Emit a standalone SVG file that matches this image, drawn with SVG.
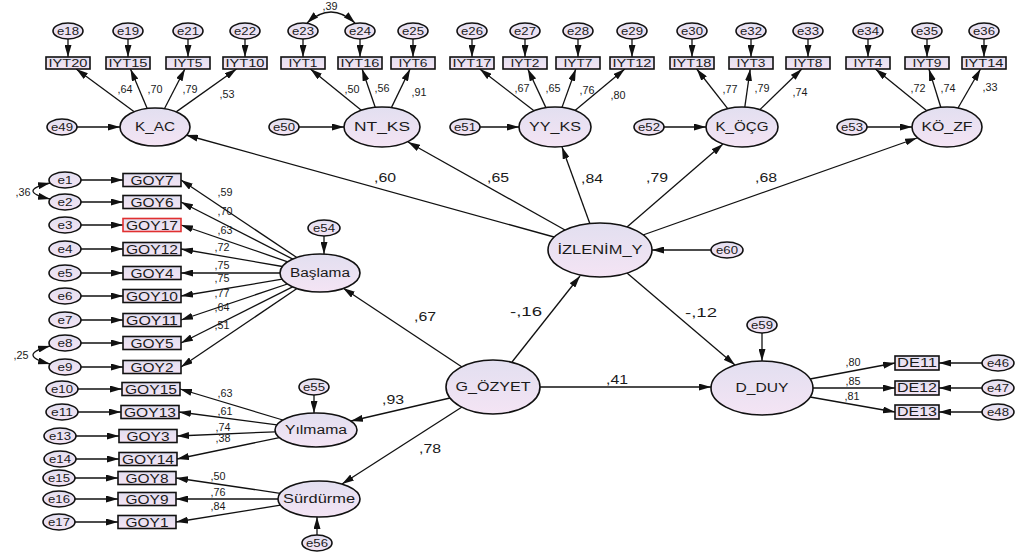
<svg xmlns="http://www.w3.org/2000/svg" width="1024" height="556" viewBox="0 0 1024 556">
<defs>
<linearGradient id="g" x1="0" y1="0" x2="0" y2="1">
<stop offset="0" stop-color="#e2dff0"/>
<stop offset="1" stop-color="#f4e4f4"/>
</linearGradient>
<marker id="ah" viewBox="0 0 12 7" refX="12" refY="3.5" markerWidth="12" markerHeight="7" markerUnits="userSpaceOnUse" orient="auto-start-reverse">
<path d="M0,0 L12,3.5 L0,7 z" fill="#111"/>
</marker>
</defs>
<style>
.l{stroke:#111;stroke-width:1.3;fill:none;marker-end:url(#ah)}
.c{stroke:#111;stroke-width:1.3;fill:none;marker-start:url(#ah);marker-end:url(#ah)}
.n{fill:url(#g);stroke:#111;stroke-width:1.6}
.r{fill:url(#g);stroke:#e03030;stroke-width:1.6}
text{font-family:"Liberation Sans",Arial,sans-serif;fill:#1a1a1a;text-anchor:middle}
.e{font-size:10.5px}
.b{font-size:10px}
.go{font-size:12px}
.lv{font-size:12px}
.ld{font-size:10px}
.pc{font-size:12.5px}
</style>
<rect width="1024" height="556" fill="#ffffff"/>

<g id="connectors">
<path class="l" d="M68,39V57"/><path class="l" d="M128,39V57"/><path class="l" d="M188,39V57"/><path class="l" d="M245,39V57"/>
<path class="l" d="M303,39V57"/><path class="l" d="M360,39V57"/><path class="l" d="M413,39V57"/><path class="l" d="M472,39V57"/>
<path class="l" d="M525,39V57"/><path class="l" d="M578,39V57"/><path class="l" d="M632,39V57"/><path class="l" d="M692,39V57"/>
<path class="l" d="M751,39V57"/><path class="l" d="M808,39V57"/><path class="l" d="M868,39V57"/><path class="l" d="M927,39V57"/>
<path class="l" d="M984,39V57"/>
<path class="l" d="M134.2,111.7L76.2,69"/>
<path class="l" d="M147.2,108.5L130.5,69"/>
<path class="l" d="M164.4,108.7L184.9,69"/>
<path class="l" d="M176.2,111.9L236.5,69"/>
<path class="l" d="M361.3,110.2L310.4,69"/>
<path class="l" d="M375.2,107.3L362.1,69"/>
<path class="l" d="M391.4,107.6L410.1,69"/>
<path class="l" d="M534,110.8L479.8,69"/>
<path class="l" d="M545.9,107.6L527.8,69"/>
<path class="l" d="M562,107.4L575.8,69"/>
<path class="l" d="M575,110.4L624.8,69"/>
<path class="l" d="M727.7,108.7L696.7,69"/>
<path class="l" d="M744.8,107.1L750.2,69"/>
<path class="l" d="M759.9,109.6L801.8,69"/>
<path class="l" d="M926.8,110.7L875.4,69"/>
<path class="l" d="M940.8,107.3L928.9,69"/>
<path class="l" d="M958,108L980.5,69"/>
<path class="l" d="M77,127H120"/>
<path class="l" d="M299,127H344"/>
<path class="l" d="M480,127H519"/>
<path class="l" d="M664,127H706"/>
<path class="l" d="M867,127H912"/>
<path class="c" d="M307,23Q331,1 355,23"/>
<path class="l" d="M554,237L186,135"/>
<path class="l" d="M565,230L408,142"/>
<path class="l" d="M590,224L562,147"/>
<path class="l" d="M627,227L723,144"/>
<path class="l" d="M643,235L917,138"/>
<path class="l" d="M711,250H652"/>
<path class="l" d="M627,273L735,365"/>
<path class="l" d="M512,362L580,276"/>
<path class="l" d="M540,387H711"/>
<path class="l" d="M462,367L343,288"/>
<path class="l" d="M450,398L351,421"/>
<path class="l" d="M462,407L342,484"/>
<path class="l" d="M324,236V254"/>
<path class="l" d="M314,395V413"/>
<path class="l" d="M317,535V517"/>
<path class="l" d="M762,333V361"/>
<path class="l" d="M810,379L895,363"/>
<path class="l" d="M813,388H895"/>
<path class="l" d="M810,397L895,412"/>
<path class="l" d="M982,363H939"/>
<path class="l" d="M982,388H939"/>
<path class="l" d="M982,412H939"/>
<path class="l" d="M296.8,257.5L181,180"/>
<path class="l" d="M292.8,259.1L181,202"/>
<path class="l" d="M287.7,261.8L181,225"/>
<path class="l" d="M282.4,266.5L181,249"/>
<path class="l" d="M280,273H181"/>
<path class="l" d="M282.2,279.2L181,296"/>
<path class="l" d="M287.4,284L181,320"/>
<path class="l" d="M292.6,286.8L181,343"/>
<path class="l" d="M297,288.5L181,367"/>
<path class="l" d="M282.8,420L180,389"/>
<path class="l" d="M276.9,424.9L179,412"/>
<path class="l" d="M275.2,431.8L177,436"/>
<path class="l" d="M279.4,437.6L177,459"/>
<path class="l" d="M280.1,493.3L176,478"/>
<path class="l" d="M278,499H176"/>
<path class="l" d="M280.5,505.2L176,522"/>
<path class="l" d="M81,180H123"/><path class="l" d="M81,202H123"/><path class="l" d="M81,225H123"/>
<path class="l" d="M81,249H123"/><path class="l" d="M81,273H123"/><path class="l" d="M81,296H123"/>
<path class="l" d="M81,320H123"/><path class="l" d="M81,343H123"/><path class="l" d="M81,367H123"/>
<path class="l" d="M78,389H122"/><path class="l" d="M78,412H121"/><path class="l" d="M76,436H119"/>
<path class="l" d="M76,459H119"/><path class="l" d="M75,478H118"/><path class="l" d="M75,499H118"/>
<path class="l" d="M75,522H118"/>
<path class="c" d="M50,183Q16,191 50,199"/>
<path class="c" d="M50,346Q16,355 50,364"/>
</g>

<g id="labels-coef">
<text class="ld" x="125" y="93" textLength="15" lengthAdjust="spacingAndGlyphs">,64</text>
<text class="ld" x="155" y="93" textLength="15" lengthAdjust="spacingAndGlyphs">,70</text>
<text class="ld" x="190" y="93" textLength="15" lengthAdjust="spacingAndGlyphs">,79</text>
<text class="ld" x="227" y="98" textLength="15" lengthAdjust="spacingAndGlyphs">,53</text>
<text class="ld" x="352" y="93" textLength="15" lengthAdjust="spacingAndGlyphs">,50</text>
<text class="ld" x="382" y="92" textLength="15" lengthAdjust="spacingAndGlyphs">,56</text>
<text class="ld" x="419" y="96" textLength="15" lengthAdjust="spacingAndGlyphs">,91</text>
<text class="ld" x="522" y="92" textLength="15" lengthAdjust="spacingAndGlyphs">,67</text>
<text class="ld" x="553" y="92" textLength="15" lengthAdjust="spacingAndGlyphs">,65</text>
<text class="ld" x="587" y="94" textLength="15" lengthAdjust="spacingAndGlyphs">,76</text>
<text class="ld" x="618" y="99" textLength="15" lengthAdjust="spacingAndGlyphs">,80</text>
<text class="ld" x="730" y="93" textLength="15" lengthAdjust="spacingAndGlyphs">,77</text>
<text class="ld" x="762" y="92" textLength="15" lengthAdjust="spacingAndGlyphs">,79</text>
<text class="ld" x="800" y="96" textLength="15" lengthAdjust="spacingAndGlyphs">,74</text>
<text class="ld" x="918" y="92" textLength="15" lengthAdjust="spacingAndGlyphs">,72</text>
<text class="ld" x="948" y="92" textLength="15" lengthAdjust="spacingAndGlyphs">,74</text>
<text class="ld" x="990" y="91" textLength="15" lengthAdjust="spacingAndGlyphs">,33</text>
<text class="ld" x="330" y="10" textLength="15" lengthAdjust="spacingAndGlyphs">,39</text>
<text class="ld" x="23" y="196" textLength="15" lengthAdjust="spacingAndGlyphs">,36</text>
<text class="ld" x="21" y="359" textLength="15" lengthAdjust="spacingAndGlyphs">,25</text>
<text class="ld" x="225" y="196" textLength="15" lengthAdjust="spacingAndGlyphs">,59</text>
<text class="ld" x="225" y="215" textLength="15" lengthAdjust="spacingAndGlyphs">,70</text>
<text class="ld" x="225" y="234" textLength="15" lengthAdjust="spacingAndGlyphs">,63</text>
<text class="ld" x="222" y="251" textLength="15" lengthAdjust="spacingAndGlyphs">,72</text>
<text class="ld" x="222" y="269" textLength="15" lengthAdjust="spacingAndGlyphs">,75</text>
<text class="ld" x="222" y="282" textLength="15" lengthAdjust="spacingAndGlyphs">,75</text>
<text class="ld" x="222" y="297" textLength="15" lengthAdjust="spacingAndGlyphs">,77</text>
<text class="ld" x="222" y="311" textLength="15" lengthAdjust="spacingAndGlyphs">,64</text>
<text class="ld" x="222" y="329" textLength="15" lengthAdjust="spacingAndGlyphs">,51</text>
<text class="ld" x="225" y="397" textLength="15" lengthAdjust="spacingAndGlyphs">,63</text>
<text class="ld" x="225" y="415" textLength="15" lengthAdjust="spacingAndGlyphs">,61</text>
<text class="ld" x="223" y="431" textLength="15" lengthAdjust="spacingAndGlyphs">,74</text>
<text class="ld" x="223" y="442" textLength="15" lengthAdjust="spacingAndGlyphs">,38</text>
<text class="ld" x="218" y="480" textLength="15" lengthAdjust="spacingAndGlyphs">,50</text>
<text class="ld" x="218" y="496" textLength="15" lengthAdjust="spacingAndGlyphs">,76</text>
<text class="ld" x="218" y="510" textLength="15" lengthAdjust="spacingAndGlyphs">,84</text>
<text class="ld" x="853" y="366" textLength="15" lengthAdjust="spacingAndGlyphs">,80</text>
<text class="ld" x="853" y="385" textLength="15" lengthAdjust="spacingAndGlyphs">,85</text>
<text class="ld" x="852" y="400" textLength="15" lengthAdjust="spacingAndGlyphs">,81</text>
<text class="pc" x="385" y="182" textLength="22" lengthAdjust="spacingAndGlyphs">,60</text>
<text class="pc" x="498" y="182" textLength="22" lengthAdjust="spacingAndGlyphs">,65</text>
<text class="pc" x="592" y="183" textLength="22" lengthAdjust="spacingAndGlyphs">,84</text>
<text class="pc" x="657" y="182" textLength="22" lengthAdjust="spacingAndGlyphs">,79</text>
<text class="pc" x="766" y="182" textLength="22" lengthAdjust="spacingAndGlyphs">,68</text>
<text class="pc" x="425" y="321" textLength="22" lengthAdjust="spacingAndGlyphs">,67</text>
<text class="pc" x="526" y="316" textLength="32" lengthAdjust="spacingAndGlyphs">-,16</text>
<text class="pc" x="701" y="317" textLength="32" lengthAdjust="spacingAndGlyphs">-,12</text>
<text class="pc" x="617" y="384" textLength="22" lengthAdjust="spacingAndGlyphs">,41</text>
<text class="pc" x="393" y="404" textLength="22" lengthAdjust="spacingAndGlyphs">,93</text>
<text class="pc" x="430" y="453" textLength="22" lengthAdjust="spacingAndGlyphs">,78</text>
</g>

<g id="e18"><ellipse class="n" cx="68" cy="31" rx="15" ry="8"/><text class="e" x="68" y="35" textLength="22" lengthAdjust="spacingAndGlyphs">e18</text></g>
<g id="e19"><ellipse class="n" cx="128" cy="31" rx="15" ry="8"/><text class="e" x="128" y="35" textLength="22" lengthAdjust="spacingAndGlyphs">e19</text></g>
<g id="e21"><ellipse class="n" cx="188" cy="31" rx="15" ry="8"/><text class="e" x="188" y="35" textLength="22" lengthAdjust="spacingAndGlyphs">e21</text></g>
<g id="e22"><ellipse class="n" cx="245" cy="31" rx="15" ry="8"/><text class="e" x="245" y="35" textLength="22" lengthAdjust="spacingAndGlyphs">e22</text></g>
<g id="e23"><ellipse class="n" cx="303" cy="31" rx="15" ry="8"/><text class="e" x="303" y="35" textLength="22" lengthAdjust="spacingAndGlyphs">e23</text></g>
<g id="e24"><ellipse class="n" cx="360" cy="31" rx="15" ry="8"/><text class="e" x="360" y="35" textLength="22" lengthAdjust="spacingAndGlyphs">e24</text></g>
<g id="e25"><ellipse class="n" cx="413" cy="31" rx="15" ry="8"/><text class="e" x="413" y="35" textLength="22" lengthAdjust="spacingAndGlyphs">e25</text></g>
<g id="e26"><ellipse class="n" cx="472" cy="31" rx="15" ry="8"/><text class="e" x="472" y="35" textLength="22" lengthAdjust="spacingAndGlyphs">e26</text></g>
<g id="e27"><ellipse class="n" cx="525" cy="31" rx="15" ry="8"/><text class="e" x="525" y="35" textLength="22" lengthAdjust="spacingAndGlyphs">e27</text></g>
<g id="e28"><ellipse class="n" cx="578" cy="31" rx="15" ry="8"/><text class="e" x="578" y="35" textLength="22" lengthAdjust="spacingAndGlyphs">e28</text></g>
<g id="e29"><ellipse class="n" cx="632" cy="31" rx="15" ry="8"/><text class="e" x="632" y="35" textLength="22" lengthAdjust="spacingAndGlyphs">e29</text></g>
<g id="e30"><ellipse class="n" cx="692" cy="31" rx="15" ry="8"/><text class="e" x="692" y="35" textLength="22" lengthAdjust="spacingAndGlyphs">e30</text></g>
<g id="e32"><ellipse class="n" cx="751" cy="31" rx="15" ry="8"/><text class="e" x="751" y="35" textLength="22" lengthAdjust="spacingAndGlyphs">e32</text></g>
<g id="e33"><ellipse class="n" cx="808" cy="31" rx="15" ry="8"/><text class="e" x="808" y="35" textLength="22" lengthAdjust="spacingAndGlyphs">e33</text></g>
<g id="e34"><ellipse class="n" cx="868" cy="31" rx="15" ry="8"/><text class="e" x="868" y="35" textLength="22" lengthAdjust="spacingAndGlyphs">e34</text></g>
<g id="e35"><ellipse class="n" cx="927" cy="31" rx="15" ry="8"/><text class="e" x="927" y="35" textLength="22" lengthAdjust="spacingAndGlyphs">e35</text></g>
<g id="e36"><ellipse class="n" cx="984" cy="31" rx="15" ry="8"/><text class="e" x="984" y="35" textLength="22" lengthAdjust="spacingAndGlyphs">e36</text></g>

<g id="IYT20"><rect class="n" x="46" y="57" width="44" height="12"/><text class="b" x="68" y="67" textLength="39" lengthAdjust="spacingAndGlyphs">IYT20</text></g>
<g id="IYT15"><rect class="n" x="106" y="57" width="44" height="12"/><text class="b" x="128" y="67" textLength="39" lengthAdjust="spacingAndGlyphs">IYT15</text></g>
<g id="IYT5"><rect class="n" x="166" y="57" width="44" height="12"/><text class="b" x="188" y="67" textLength="29" lengthAdjust="spacingAndGlyphs">IYT5</text></g>
<g id="IYT10"><rect class="n" x="223" y="57" width="44" height="12"/><text class="b" x="245" y="67" textLength="39" lengthAdjust="spacingAndGlyphs">IYT10</text></g>
<g id="IYT1"><rect class="n" x="281" y="57" width="44" height="12"/><text class="b" x="303" y="67" textLength="29" lengthAdjust="spacingAndGlyphs">IYT1</text></g>
<g id="IYT16"><rect class="n" x="338" y="57" width="44" height="12"/><text class="b" x="360" y="67" textLength="39" lengthAdjust="spacingAndGlyphs">IYT16</text></g>
<g id="IYT6"><rect class="n" x="391" y="57" width="44" height="12"/><text class="b" x="413" y="67" textLength="29" lengthAdjust="spacingAndGlyphs">IYT6</text></g>
<g id="IYT17"><rect class="n" x="450" y="57" width="44" height="12"/><text class="b" x="472" y="67" textLength="39" lengthAdjust="spacingAndGlyphs">IYT17</text></g>
<g id="IYT2"><rect class="n" x="503" y="57" width="44" height="12"/><text class="b" x="525" y="67" textLength="29" lengthAdjust="spacingAndGlyphs">IYT2</text></g>
<g id="IYT7"><rect class="n" x="556" y="57" width="44" height="12"/><text class="b" x="578" y="67" textLength="29" lengthAdjust="spacingAndGlyphs">IYT7</text></g>
<g id="IYT12"><rect class="n" x="610" y="57" width="44" height="12"/><text class="b" x="632" y="67" textLength="39" lengthAdjust="spacingAndGlyphs">IYT12</text></g>
<g id="IYT18"><rect class="n" x="670" y="57" width="44" height="12"/><text class="b" x="692" y="67" textLength="39" lengthAdjust="spacingAndGlyphs">IYT18</text></g>
<g id="IYT3"><rect class="n" x="729" y="57" width="44" height="12"/><text class="b" x="751" y="67" textLength="29" lengthAdjust="spacingAndGlyphs">IYT3</text></g>
<g id="IYT8"><rect class="n" x="786" y="57" width="44" height="12"/><text class="b" x="808" y="67" textLength="29" lengthAdjust="spacingAndGlyphs">IYT8</text></g>
<g id="IYT4"><rect class="n" x="846" y="57" width="44" height="12"/><text class="b" x="868" y="67" textLength="29" lengthAdjust="spacingAndGlyphs">IYT4</text></g>
<g id="IYT9"><rect class="n" x="905" y="57" width="44" height="12"/><text class="b" x="927" y="67" textLength="29" lengthAdjust="spacingAndGlyphs">IYT9</text></g>
<g id="IYT14"><rect class="n" x="962" y="57" width="44" height="12"/><text class="b" x="984" y="67" textLength="39" lengthAdjust="spacingAndGlyphs">IYT14</text></g>

<g id="K_AC"><ellipse class="n" cx="155" cy="127" rx="35" ry="19"/><text class="lv" x="155" y="131" textLength="40" lengthAdjust="spacingAndGlyphs">K_AC</text></g>
<g id="NT_KS"><ellipse class="n" cx="382" cy="127" rx="38" ry="20"/><text class="lv" x="382" y="131" textLength="56" lengthAdjust="spacingAndGlyphs">NT_KS</text></g>
<g id="YY_KS"><ellipse class="n" cx="555" cy="127" rx="36" ry="20"/><text class="lv" x="555" y="131" textLength="52" lengthAdjust="spacingAndGlyphs">YY_KS</text></g>
<g id="K_OCG"><ellipse class="n" cx="742" cy="127" rx="36" ry="20"/><text class="lv" x="742" y="131" textLength="53" lengthAdjust="spacingAndGlyphs">K_ÖÇG</text></g>
<g id="KO_ZF"><ellipse class="n" cx="947" cy="127" rx="35" ry="20"/><text class="lv" x="947" y="131" textLength="51" lengthAdjust="spacingAndGlyphs">KÖ_ZF</text></g>
<g id="e49"><ellipse class="n" cx="62" cy="127" rx="15" ry="8"/><text class="e" x="62" y="131" textLength="22" lengthAdjust="spacingAndGlyphs">e49</text></g>
<g id="e50"><ellipse class="n" cx="284" cy="127" rx="15" ry="8"/><text class="e" x="284" y="131" textLength="22" lengthAdjust="spacingAndGlyphs">e50</text></g>
<g id="e51"><ellipse class="n" cx="465" cy="127" rx="15" ry="8"/><text class="e" x="465" y="131" textLength="22" lengthAdjust="spacingAndGlyphs">e51</text></g>
<g id="e52"><ellipse class="n" cx="649" cy="127" rx="15" ry="8"/><text class="e" x="649" y="131" textLength="22" lengthAdjust="spacingAndGlyphs">e52</text></g>
<g id="e53"><ellipse class="n" cx="852" cy="127" rx="15" ry="8"/><text class="e" x="852" y="131" textLength="22" lengthAdjust="spacingAndGlyphs">e53</text></g>

<g id="IZLENIM_Y"><ellipse class="n" cx="600" cy="250" rx="52" ry="27"/><text class="lv" x="600" y="254" textLength="85" lengthAdjust="spacingAndGlyphs">İZLENİM_Y</text></g>
<g id="e60"><ellipse class="n" cx="727" cy="250" rx="16" ry="8"/><text class="e" x="727" y="254" textLength="22" lengthAdjust="spacingAndGlyphs">e60</text></g>
<g id="G_OZYET"><ellipse class="n" cx="493" cy="387" rx="47" ry="27"/><text class="lv" x="493" y="391" textLength="75" lengthAdjust="spacingAndGlyphs">G_ÖZYET</text></g>
<g id="D_DUY"><ellipse class="n" cx="762" cy="388" rx="51" ry="27"/><text class="lv" x="762" y="392" textLength="53" lengthAdjust="spacingAndGlyphs">D_DUY</text></g>
<g id="e59"><ellipse class="n" cx="762" cy="325" rx="15" ry="8"/><text class="e" x="762" y="329" textLength="22" lengthAdjust="spacingAndGlyphs">e59</text></g>

<g id="DE11"><rect class="n" x="895" y="356" width="44" height="14"/><text class="go" x="917" y="367" textLength="40" lengthAdjust="spacingAndGlyphs">DE11</text></g>
<g id="DE12"><rect class="n" x="895" y="381" width="44" height="14"/><text class="go" x="917" y="392" textLength="40" lengthAdjust="spacingAndGlyphs">DE12</text></g>
<g id="DE13"><rect class="n" x="895" y="405" width="44" height="14"/><text class="go" x="917" y="416" textLength="40" lengthAdjust="spacingAndGlyphs">DE13</text></g>
<g id="e46"><ellipse class="n" cx="998" cy="363" rx="16" ry="8"/><text class="e" x="998" y="367" textLength="22" lengthAdjust="spacingAndGlyphs">e46</text></g>
<g id="e47"><ellipse class="n" cx="998" cy="388" rx="16" ry="8"/><text class="e" x="998" y="392" textLength="22" lengthAdjust="spacingAndGlyphs">e47</text></g>
<g id="e48"><ellipse class="n" cx="998" cy="412" rx="16" ry="8"/><text class="e" x="998" y="416" textLength="22" lengthAdjust="spacingAndGlyphs">e48</text></g>

<g id="Baslama"><ellipse class="n" cx="320" cy="273" rx="40" ry="19"/><text class="lv" x="320" y="277" textLength="60" lengthAdjust="spacingAndGlyphs">Başlama</text></g>
<g id="e54"><ellipse class="n" cx="324" cy="228" rx="16" ry="8"/><text class="e" x="324" y="232" textLength="22" lengthAdjust="spacingAndGlyphs">e54</text></g>
<g id="Yilmama"><ellipse class="n" cx="316" cy="430" rx="41" ry="17"/><text class="lv" x="316" y="434" textLength="62" lengthAdjust="spacingAndGlyphs">Yılmama</text></g>
<g id="e55"><ellipse class="n" cx="314" cy="387" rx="15" ry="8"/><text class="e" x="314" y="391" textLength="22" lengthAdjust="spacingAndGlyphs">e55</text></g>
<g id="Surdurme"><ellipse class="n" cx="319" cy="499" rx="41" ry="18"/><text class="lv" x="319" y="503" textLength="72" lengthAdjust="spacingAndGlyphs">Sürdürme</text></g>
<g id="e56"><ellipse class="n" cx="317" cy="543" rx="15" ry="8"/><text class="e" x="317" y="547" textLength="22" lengthAdjust="spacingAndGlyphs">e56</text></g>

<g id="e1"><ellipse class="n" cx="65" cy="180" rx="16" ry="8"/><text class="e" x="65" y="184" textLength="15" lengthAdjust="spacingAndGlyphs">e1</text></g>
<g id="e2"><ellipse class="n" cx="65" cy="202" rx="16" ry="8"/><text class="e" x="65" y="206" textLength="15" lengthAdjust="spacingAndGlyphs">e2</text></g>
<g id="e3"><ellipse class="n" cx="65" cy="225" rx="16" ry="8"/><text class="e" x="65" y="229" textLength="15" lengthAdjust="spacingAndGlyphs">e3</text></g>
<g id="e4"><ellipse class="n" cx="65" cy="249" rx="16" ry="8"/><text class="e" x="65" y="253" textLength="15" lengthAdjust="spacingAndGlyphs">e4</text></g>
<g id="e5"><ellipse class="n" cx="65" cy="273" rx="16" ry="8"/><text class="e" x="65" y="277" textLength="15" lengthAdjust="spacingAndGlyphs">e5</text></g>
<g id="e6"><ellipse class="n" cx="65" cy="296" rx="16" ry="8"/><text class="e" x="65" y="300" textLength="15" lengthAdjust="spacingAndGlyphs">e6</text></g>
<g id="e7"><ellipse class="n" cx="65" cy="320" rx="16" ry="8"/><text class="e" x="65" y="324" textLength="15" lengthAdjust="spacingAndGlyphs">e7</text></g>
<g id="e8"><ellipse class="n" cx="65" cy="343" rx="16" ry="8"/><text class="e" x="65" y="347" textLength="15" lengthAdjust="spacingAndGlyphs">e8</text></g>
<g id="e9"><ellipse class="n" cx="65" cy="367" rx="16" ry="8"/><text class="e" x="65" y="371" textLength="15" lengthAdjust="spacingAndGlyphs">e9</text></g>
<g id="e10"><ellipse class="n" cx="62" cy="389" rx="16" ry="8"/><text class="e" x="62" y="393" textLength="22" lengthAdjust="spacingAndGlyphs">e10</text></g>
<g id="e11"><ellipse class="n" cx="62" cy="412" rx="16" ry="8"/><text class="e" x="62" y="416" textLength="22" lengthAdjust="spacingAndGlyphs">e11</text></g>
<g id="e13"><ellipse class="n" cx="60" cy="436" rx="16" ry="8"/><text class="e" x="60" y="440" textLength="22" lengthAdjust="spacingAndGlyphs">e13</text></g>
<g id="e14"><ellipse class="n" cx="60" cy="459" rx="16" ry="8"/><text class="e" x="60" y="463" textLength="22" lengthAdjust="spacingAndGlyphs">e14</text></g>
<g id="e15"><ellipse class="n" cx="59" cy="478" rx="16" ry="8"/><text class="e" x="59" y="482" textLength="22" lengthAdjust="spacingAndGlyphs">e15</text></g>
<g id="e16"><ellipse class="n" cx="59" cy="499" rx="16" ry="8"/><text class="e" x="59" y="503" textLength="22" lengthAdjust="spacingAndGlyphs">e16</text></g>
<g id="e17"><ellipse class="n" cx="59" cy="522" rx="16" ry="8"/><text class="e" x="59" y="526" textLength="22" lengthAdjust="spacingAndGlyphs">e17</text></g>

<g id="GOY7"><rect class="n" x="123" y="173.5" width="58" height="13"/><text class="go" x="152" y="184.5" textLength="43" lengthAdjust="spacingAndGlyphs">GOY7</text></g>
<g id="GOY6"><rect class="n" x="123" y="195.5" width="58" height="13"/><text class="go" x="152" y="206.5" textLength="43" lengthAdjust="spacingAndGlyphs">GOY6</text></g>
<g id="GOY17"><rect class="r" x="123" y="218.5" width="58" height="13"/><text class="go" x="152" y="229.5" textLength="52" lengthAdjust="spacingAndGlyphs">GOY17</text></g>
<g id="GOY12"><rect class="n" x="123" y="242.5" width="58" height="13"/><text class="go" x="152" y="253.5" textLength="52" lengthAdjust="spacingAndGlyphs">GOY12</text></g>
<g id="GOY4"><rect class="n" x="123" y="266.5" width="58" height="13"/><text class="go" x="152" y="277.5" textLength="43" lengthAdjust="spacingAndGlyphs">GOY4</text></g>
<g id="GOY10"><rect class="n" x="123" y="289.5" width="58" height="13"/><text class="go" x="152" y="300.5" textLength="52" lengthAdjust="spacingAndGlyphs">GOY10</text></g>
<g id="GOY11"><rect class="n" x="123" y="313.5" width="58" height="13"/><text class="go" x="152" y="324.5" textLength="52" lengthAdjust="spacingAndGlyphs">GOY11</text></g>
<g id="GOY5"><rect class="n" x="123" y="336.5" width="58" height="13"/><text class="go" x="152" y="347.5" textLength="43" lengthAdjust="spacingAndGlyphs">GOY5</text></g>
<g id="GOY2"><rect class="n" x="123" y="360.5" width="58" height="13"/><text class="go" x="152" y="371.5" textLength="43" lengthAdjust="spacingAndGlyphs">GOY2</text></g>
<g id="GOY15"><rect class="n" x="122" y="382.5" width="58" height="13"/><text class="go" x="151" y="393.5" textLength="52" lengthAdjust="spacingAndGlyphs">GOY15</text></g>
<g id="GOY13"><rect class="n" x="121" y="405.5" width="58" height="13"/><text class="go" x="150" y="416.5" textLength="52" lengthAdjust="spacingAndGlyphs">GOY13</text></g>
<g id="GOY3"><rect class="n" x="119" y="429.5" width="58" height="13"/><text class="go" x="148" y="440.5" textLength="43" lengthAdjust="spacingAndGlyphs">GOY3</text></g>
<g id="GOY14"><rect class="n" x="119" y="452.5" width="58" height="13"/><text class="go" x="148" y="463.5" textLength="52" lengthAdjust="spacingAndGlyphs">GOY14</text></g>
<g id="GOY8"><rect class="n" x="118" y="471.5" width="58" height="13"/><text class="go" x="147" y="482.5" textLength="43" lengthAdjust="spacingAndGlyphs">GOY8</text></g>
<g id="GOY9"><rect class="n" x="118" y="492.5" width="58" height="13"/><text class="go" x="147" y="503.5" textLength="43" lengthAdjust="spacingAndGlyphs">GOY9</text></g>
<g id="GOY1"><rect class="n" x="118" y="515.5" width="58" height="13"/><text class="go" x="147" y="526.5" textLength="43" lengthAdjust="spacingAndGlyphs">GOY1</text></g>
</svg>
